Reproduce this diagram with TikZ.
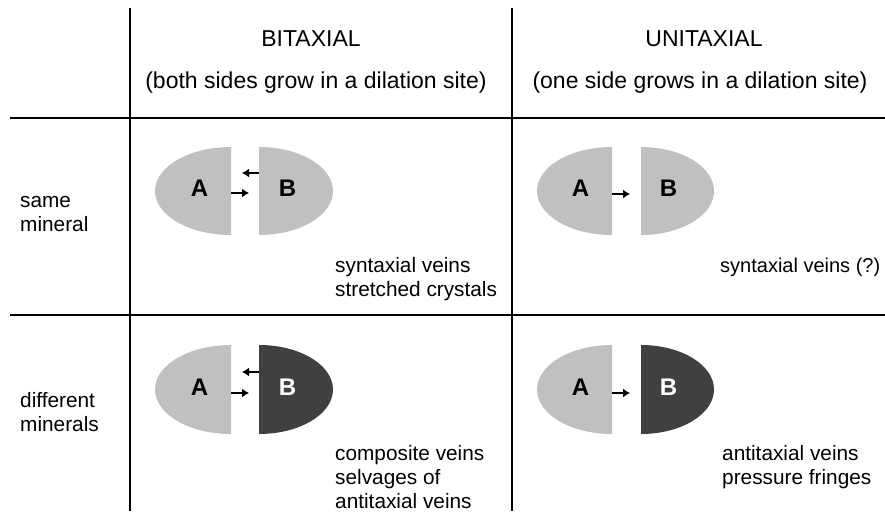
\documentclass[tikz,border=0pt]{standalone}
\usepackage{fontspec}
\setmainfont{Liberation Sans}
\usetikzlibrary{arrows.meta}
\definecolor{lightgr}{RGB}{192,192,192}
\definecolor{darkgr}{RGB}{64,64,64}
\tikzset{
  gridline/.style={line width=1.6pt, black},
  head/.style={font=\fontsize{23}{27}\selectfont, inner sep=0pt},
  body/.style={font=\fontsize{20.8}{24}\selectfont, inner sep=0pt, align=left, anchor=base west},
  letter/.style={font=\fontsize{24}{27}\selectfont\bfseries, inner sep=0pt},
  moveto/.style={line width=2.5pt, -{Latex[length=7pt,width=9pt]}},
}
\begin{document}
\begin{tikzpicture}[x=1pt,y=-1pt]
\useasboundingbox (0,0) rectangle (885,511);
% grid
\coordinate (v1t) at (130,8);   \coordinate (v1b) at (130,511);
\coordinate (v2t) at (512,8);   \coordinate (v2b) at (512,511);
\coordinate (h1l) at (10,118);  \coordinate (h1r) at (885,118);
\coordinate (h2l) at (10,315);  \coordinate (h2r) at (885,315);
\draw[gridline] (v1t) -- (v1b);
\draw[gridline] (v2t) -- (v2b);
\draw[gridline] (h1l) -- (h1r);
\draw[gridline] (h2l) -- (h2r);
% headers
\node[head, anchor=base] (bi) at (311,47) {BITAXIAL};
\node[head, anchor=base] (bisub) at (316,88) {(both sides grow in a dilation site)};
\node[head, anchor=base] (uni) at (704,47) {UNITAXIAL};
\node[head, anchor=base] (unisub) at (700,88) {(one side grows in a dilation site)};
% row labels
\node[body] (same) at (20,231) {same\\mineral};
\node[body] (diff) at (20,431) {different\\minerals};
% row 1, bitaxial
\fill[lightgr] (231,147) arc[start angle=90,end angle=270,x radius=76pt,y radius=44pt] -- cycle;
\fill[lightgr] (259,147) arc[start angle=90,end angle=-90,x radius=74pt,y radius=44pt] -- cycle;
\node[letter] (a1) at (199.5,188.5) {A};
\node[letter] (b1) at (287.5,188.5) {B};
\coordinate (p1s) at (258.5,173); \coordinate (p1e) at (242,173);
\coordinate (q1s) at (231,193); \coordinate (q1e) at (249,193);
\draw[moveto] (p1s) -- (p1e);
\draw[moveto] (q1s) -- (q1e);
\node[body] (t1) at (335,296) {syntaxial veins\\stretched crystals};
% row 1, unitaxial
\fill[lightgr] (612,147) arc[start angle=90,end angle=270,x radius=75pt,y radius=44pt] -- cycle;
\fill[lightgr] (641,147) arc[start angle=90,end angle=-90,x radius=73pt,y radius=44pt] -- cycle;
\node[letter] (a2) at (580.5,188.5) {A};
\node[letter] (b2) at (668.5,188.5) {B};
\coordinate (q2s) at (612,194); \coordinate (q2e) at (630,194);
\draw[moveto] (q2s) -- (q2e);
\node[body, font=\fontsize{20}{24}\selectfont] (t2) at (720,272) {syntaxial veins (?)};
% row 2, bitaxial
\fill[lightgr] (231,345) arc[start angle=90,end angle=270,x radius=76pt,y radius=44.5pt] -- cycle;
\fill[darkgr] (259,345) arc[start angle=90,end angle=-90,x radius=74pt,y radius=44.5pt] -- cycle;
\node[letter] (a3) at (199.5,387.5) {A};
\node[letter, white] (b3) at (287.5,387.5) {B};
\coordinate (p3s) at (258.5,372); \coordinate (p3e) at (242,372);
\coordinate (q3s) at (231,393); \coordinate (q3e) at (249,393);
\draw[moveto] (p3s) -- (p3e);
\draw[moveto] (q3s) -- (q3e);
\node[body] (t3) at (335,508) {composite veins\\selvages of\\antitaxial veins};
% row 2, unitaxial
\fill[lightgr] (612,345) arc[start angle=90,end angle=270,x radius=75pt,y radius=44.5pt] -- cycle;
\fill[darkgr] (641,345) arc[start angle=90,end angle=-90,x radius=73pt,y radius=44.5pt] -- cycle;
\node[letter] (a4) at (580.5,387.5) {A};
\node[letter, white] (b4) at (668.5,387.5) {B};
\coordinate (q4s) at (612,393); \coordinate (q4e) at (630,393);
\draw[moveto] (q4s) -- (q4e);
\node[body] (t4) at (722,484) {antitaxial veins\\pressure fringes};
\end{tikzpicture}
\end{document}
